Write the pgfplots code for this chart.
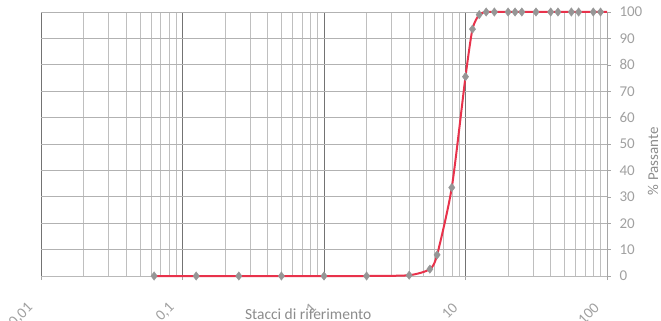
\documentclass[border=0pt]{standalone}
\usepackage{pgfplots}
\pgfplotsset{compat=1.18}
\usepackage{fontspec}
\setmainfont{Carlito}
\definecolor{lbl}{RGB}{160,160,160}
\definecolor{ttl}{RGB}{140,140,140}
\definecolor{redl}{RGB}{232,50,75}
\definecolor{mk}{RGB}{150,150,150}
\begin{document}
\begin{tikzpicture}
\path[use as bounding box] (-41pt,-45pt) rectangle (620pt,276pt);
\begin{axis}[
  at={(0pt,0pt)}, anchor=south west,
  scale only axis, width=566pt, height=264pt,
  xmode=log, xmin=0.01, xmax=100, ymin=0, ymax=100,
  axis x line=bottom, axis y line=right,
  x axis line style={-, draw=gray!55},
  y axis line style={-, draw=gray!70},
  xtick={0.01,0.1,1,10,100},
  xticklabels={{0,01},{0,1},1,10,100},
  minor xtick={0.02,0.03,0.04,0.05,0.06,0.07,0.08,0.09,0.2,0.3,0.4,0.5,0.6,0.7,0.8,0.9,2,3,4,5,6,7,8,9,20,30,40,50,60,70,80,90},
  ytick={0,10,...,100},
  tick align=outside,
  major tick length=4pt, minor tick length=0pt,
  tick style={gray!70},
  grid=both,
  major grid style={gray!60, line width=0.6pt},
  major x grid style={black!55, line width=0.8pt},
  minor grid style={gray!50, line width=0.5pt},
  /pgf/number format/assume math mode=true,
  tick label style={font=\fontsize{15}{15}\selectfont, text=lbl},
  xticklabel style={xshift=-8pt, yshift=-23pt, rotate=45, anchor=east},
  yticklabel style={xshift=5pt},
  xlabel={Stacci di riferimento},
  xlabel style={font=\fontsize{15.5}{15.5}\selectfont, text=ttl, at={(rel axis cs:0.472,0)}, anchor=north, yshift=-29pt},
  ylabel={\% Passante},
  ylabel style={font=\fontsize{15}{15}\selectfont, text=ttl, at={(rel axis cs:1,0.435)}, anchor=center, yshift=-46pt},
  clip=false,
]
\addplot[redl, line width=2pt, smooth, tension=0.4] coordinates {
(0.063,0) (0.125,0) (0.25,0) (0.5,0) (1,0) (2,0) (4,0.3) (5.6,2.6) (6.3,8) (8,33.5) (10,75.5) (11.2,93.5) (12.5,99) (14,100) (16,100) (20,100) (22.4,100) (25,100) (31.5,100) (40,100) (45,100) (56,100) (63,100) (80,100) (90,100) (100,100)
};
\addplot[only marks, mark=diamond*, mark size=4.2pt, mk, mark options={fill=mk, draw=mk}] coordinates {
(0.063,0) (0.125,0) (0.25,0) (0.5,0) (1,0) (2,0) (4,0.3) (5.6,2.6) (6.3,8) (8,33.5) (10,75.5) (11.2,93.5) (12.5,99) (14,100) (16,100) (20,100) (22.4,100) (25,100) (31.5,100) (40,100) (45,100) (56,100) (63,100) (80,100) (90,100)
};
\end{axis}
\end{tikzpicture}
\end{document}
